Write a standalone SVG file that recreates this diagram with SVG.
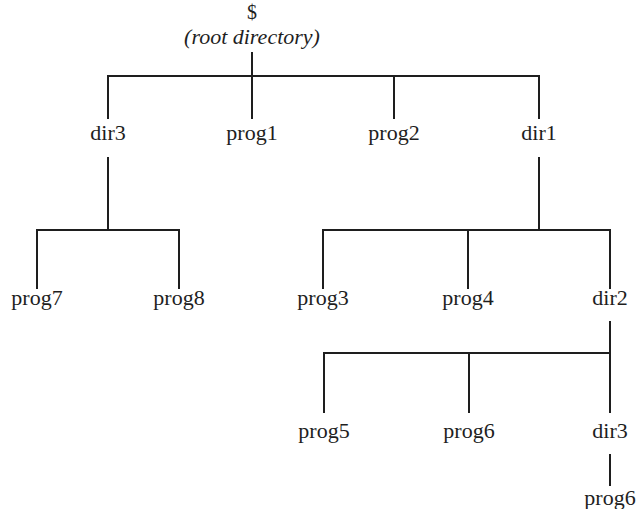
<svg xmlns="http://www.w3.org/2000/svg" width="644" height="509" viewBox="0 0 644 509">
  <style>
    .lbl { font-family: "Liberation Serif", "Times New Roman", serif; font-size: 22px; fill: #1e1e1e; text-anchor: middle; }
    .it { font-style: italic; }
    .sym { font-size: 20px; }
    .edge { stroke: #1e1e1e; stroke-width: 2; fill: none; stroke-linecap: square; }
  </style>
  <rect width="644" height="509" fill="#ffffff"/>
  <!-- tree branches: stem from parent, bar, drops to children -->
  <g id="connectors">
    <path class="edge" d="M252 53 V76 M108 118 V76 H539 V118 M252 76 V118 M394 76 V118"/>
    <path class="edge" d="M108 158 V230 M37 288 V230 H179 V288"/>
    <path class="edge" d="M539 158 V230 M323 288 V230 H610 V288 M468 230 V288"/>
    <path class="edge" d="M610 322 V353 M324 412 V353 H610 V412 M469 353 V412"/>
    <path class="edge" d="M610 455 V485"/>
  </g>
  <g id="root"><text class="lbl sym" x="252" y="19">$</text><text class="lbl it" x="252" y="44">(root directory)</text></g>
  <g id="dir3"><text class="lbl" x="108" y="140">dir3</text></g>
  <g id="prog1"><text class="lbl" x="252" y="140">prog1</text></g>
  <g id="prog2"><text class="lbl" x="394" y="140">prog2</text></g>
  <g id="dir1"><text class="lbl" x="539" y="140">dir1</text></g>
  <g id="prog7"><text class="lbl" x="37" y="305">prog7</text></g>
  <g id="prog8"><text class="lbl" x="179" y="305">prog8</text></g>
  <g id="prog3"><text class="lbl" x="323" y="305">prog3</text></g>
  <g id="prog4"><text class="lbl" x="468" y="305">prog4</text></g>
  <g id="dir2"><text class="lbl" x="610" y="305">dir2</text></g>
  <g id="prog5"><text class="lbl" x="324" y="438">prog5</text></g>
  <g id="prog6"><text class="lbl" x="469" y="438">prog6</text></g>
  <g id="dir3b"><text class="lbl" x="610" y="438">dir3</text></g>
  <g id="prog6b"><text class="lbl" x="610" y="505">prog6</text></g>
</svg>
